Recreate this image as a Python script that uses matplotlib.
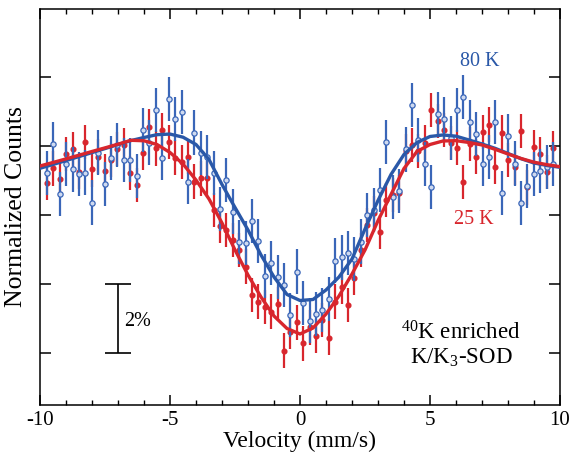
import numpy as np
import matplotlib
matplotlib.use('Agg')
import matplotlib.pyplot as plt

plt.rcParams['font.family'] = ['Liberation Serif', 'DejaVu Serif']
plt.rcParams['mathtext.fontset'] = 'custom'
plt.rcParams['mathtext.rm'] = 'Liberation Serif'
plt.rcParams['mathtext.default'] = 'regular'
plt.rcParams['axes.unicode_minus'] = False

# measured spectra: 80 velocity channels
velocity = np.linspace(-9.73, 9.73, 80)

counts_80K = [
    0.9921, 1.0006, 0.9861, 0.9948, 0.9932, 0.9919, 0.9923, 0.9836, 0.9981, 0.9890,
    0.9966, 1.0003, 0.9959, 0.9960, 0.9913, 1.0046, 1.0010, 1.0104, 0.9966, 1.0136,
    1.0077, 1.0099, 0.9897, 1.0039, 0.9979, 0.9969, 0.9921, 0.9817, 0.9901, 0.9810,
    0.9721, 0.9718, 0.9783, 0.9725, 0.9624, 0.9660, 0.9621, 0.9597, 0.9510, 0.9636,
    0.9545, 0.9494, 0.9513, 0.9525, 0.9557, 0.9668, 0.9677, 0.9691, 0.9672, 0.9723,
    0.9800, 0.9815, 0.9872, 1.0012, 0.9853, 0.9870, 0.9990, 1.0119, 1.0017, 0.9947,
    0.9882, 1.0092, 1.0078, 1.0022, 1.0104, 1.0141, 1.0069, 1.0035, 0.9947, 0.9968,
    1.0070, 0.9863, 1.0029, 0.9949, 0.9834, 0.9885, 0.9920, 0.9928, 0.9940, 0.9948,
]
counts_25K = [
    0.9892, 0.9935, 0.9903, 0.9977, 0.9990, 0.9926, 1.0012, 0.9932, 0.9969, 0.9928,
    0.9959, 0.9991, 1.0003, 0.9921, 0.9887, 0.9979, 1.0056, 0.9993, 1.0046, 1.0012,
    0.9966, 0.9953, 0.9969, 0.9897, 0.9906, 0.9906, 0.9814, 0.9768, 0.9757, 0.9728,
    0.9699, 0.9650, 0.9568, 0.9549, 0.9534, 0.9520, 0.9542, 0.9407, 0.9462, 0.9489,
    0.9428, 0.9474, 0.9449, 0.9496, 0.9443, 0.9549, 0.9592, 0.9539, 0.9617, 0.9699,
    0.9771, 0.9805, 0.9750, 0.9843, 0.9858, 0.9865, 0.9985, 1.0003, 0.9986, 1.0010,
    1.0104, 1.0073, 1.0046, 1.0008, 0.9995, 0.9895, 1.0006, 0.9969, 1.0040, 1.0062,
    0.9940, 1.0039, 0.9959, 0.9938, 1.0044, 0.9880, 0.9996, 0.9977, 0.9924, 0.9993,
]
err_80K = 0.0064
err_25K = 0.0050

# fitted curves, read every 0.5 mm/s
fit_velocity = np.arange(-10, 10.01, 0.5)
fit_80K = [
    0.99354, 0.99464, 0.99577, 0.99693, 0.99809, 0.99925, 1.00041, 1.00157, 1.00246, 1.00328,
    1.00345, 1.00255, 1.00043, 0.99609, 0.98884, 0.98217, 0.97565, 0.96841, 0.96203, 0.95696,
    0.95522, 0.95551, 0.95826, 0.96203, 0.96725, 0.97594, 0.98420, 0.99174, 0.99754, 1.00101,
    1.00275, 1.00319, 1.00284, 1.00174, 1.00058, 0.99933, 0.99783, 0.99632, 0.99507, 0.99435,
    0.99383,
]
fit_25K = [
    0.99420, 0.99522, 0.99626, 0.99733, 0.99841, 0.99945, 1.00052, 1.00165, 1.00151, 1.00043,
    0.99812, 0.99478, 0.99014, 0.98464, 0.97768, 0.96986, 0.96261, 0.95623, 0.95072, 0.94710,
    0.94551, 0.94725, 0.95130, 0.95652, 0.96290, 0.96986, 0.97835, 0.98594, 0.99348, 0.99841,
    1.00043, 1.00145, 1.00154, 1.00101, 1.00029, 0.99904, 0.99768, 0.99638, 0.99530, 0.99458,
    0.99400,
]

# 2% scale bar
bar_x = -7.0
bar_lo, bar_hi = 0.94, 0.96

blue = '#2a58a8'
blue_bar = '#3a66b8'
red = '#d8262d'

fig = plt.figure(figsize=(5.71, 4.69), dpi=100)
ax = fig.add_axes([40 / 571, 64 / 469, 520 / 571, 396 / 469])

ax.errorbar(velocity, counts_25K, yerr=err_25K, fmt='o', ms=3.4, color=red,
            ecolor=red, elinewidth=1.6, capsize=0, zorder=2)
ax.errorbar(velocity, counts_80K, yerr=err_80K, fmt='o', ms=3.8, mfc='#cfdaf0',
            mec=blue_bar, mew=0.9, ecolor=blue_bar, elinewidth=1.6, capsize=0, zorder=3)
ax.plot(fit_velocity, fit_80K, color=blue, lw=2.4, zorder=4)
ax.plot(fit_velocity, fit_25K, color=red, lw=2.4, zorder=5)

ax.vlines(bar_x, bar_lo, bar_hi, color='black', lw=1.2)
ax.hlines([bar_lo, bar_hi], bar_x - 0.5, bar_x + 0.5, color='black', lw=1.2)
ax.text(bar_x + 0.25, (bar_lo + bar_hi) / 2 - 0.001, '2%', fontsize=14.5, va='center', ha='left')

ax.text(6.9, 1.0246, '80 K', color=blue, fontsize=14.5, ha='center', va='center')
ax.text(6.7, 0.9788, '25 K', color=red, fontsize=14.5, ha='center', va='center')
ax.text(6.2, 0.9458, '$^{40}$K enriched', fontsize=16.5, ha='center', va='center')
ax.text(6.2, 0.9386, 'K/K$_3$-SOD', fontsize=16.5, ha='center', va='center')

ax.set_xlim(-10, 10)
ax.set_ylim(0.92493, 1.0397)
ax.set_xticks([-10, -5, 0, 5, 10])
ax.set_xticks(np.arange(-10, 11, 1), minor=True)
ax.set_yticks([0.94, 0.96, 0.98, 1.00, 1.02])
ax.set_yticklabels([])
ax.tick_params(axis='x', which='major', direction='in', top=True, length=7, width=1.1,
               labelsize=15, pad=4)
ax.tick_params(axis='x', which='minor', direction='in', top=True, length=3.5, width=1.0)
ax.tick_params(axis='y', which='major', direction='in', right=True, length=8, width=1.1)
for s in ax.spines.values():
    s.set_linewidth(1.1)

ax.set_xlabel('Velocity (mm/s)', fontsize=17, labelpad=1)
ax.set_ylabel('Normalized Counts', fontsize=18.5, labelpad=6)

fig.savefig('out.png', dpi=100)
